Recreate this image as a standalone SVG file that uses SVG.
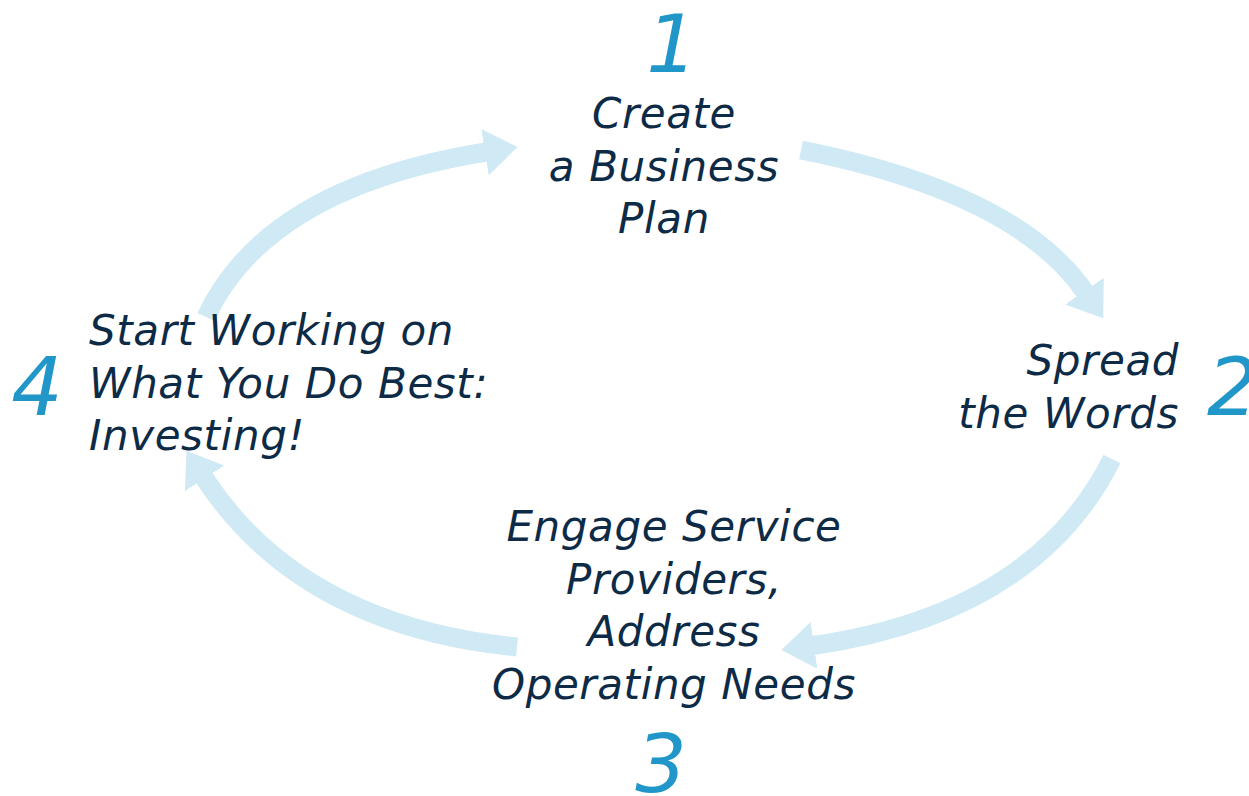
<svg xmlns="http://www.w3.org/2000/svg" width="1249" height="796" viewBox="0 0 1249 796">
<defs>
<style>
.lbl{font-family:"DejaVu Sans",Verdana,sans-serif;font-style:italic;font-size:42px;letter-spacing:0.6px;fill:#0d2b46}
.num{font-family:"DejaVu Sans",Verdana,sans-serif;font-style:italic;font-size:81px;fill:#2196c9}
.arr{fill:none;stroke:#cfe9f5;stroke-width:19;marker-end:url(#head)}
</style>
<marker id="head" markerUnits="userSpaceOnUse" viewBox="0 0 33 47" refX="1" refY="23.5" markerWidth="33" markerHeight="47" orient="auto">
<path d="M0,0 L33,23.5 L0,47 Z" fill="#cfe9f5"/>
</marker>
</defs>
<rect width="1249" height="796" fill="#ffffff"/>
<g id="connectors">
<path class="arr" d="M206,317 Q266.5,187.4 486,152"/>
<path class="arr" d="M801,150 Q1016.5,193 1085,292"/>
<path class="arr" d="M1112,459 Q1034.9,613.3 813,645.5"/>
<path class="arr" d="M517,647 Q300.5,625.3 204,477.5"/>
</g>
<g id="node1">
<text class="num" x="672" y="72" text-anchor="middle">1</text>
<text class="lbl" text-anchor="middle"><tspan x="664" y="128">Create</tspan><tspan x="664" y="180.5">a Business</tspan><tspan x="664" y="233">Plan</tspan></text>
</g>
<g id="node2">
<text class="num" x="1207" y="415">2</text>
<text class="lbl" text-anchor="end"><tspan x="1179" y="375">Spread</tspan><tspan x="1179" y="428">the Words</tspan></text>
</g>
<g id="node3">
<text class="num" x="661" y="792" text-anchor="middle">3</text>
<text class="lbl" text-anchor="middle"><tspan x="674" y="541">Engage Service</tspan><tspan x="674" y="593.5">Providers,</tspan><tspan x="674" y="646">Address</tspan><tspan x="674" y="698.5">Operating Needs</tspan></text>
</g>
<g id="node4">
<text class="num" x="37" y="415" text-anchor="middle">4</text>
<text class="lbl"><tspan x="89" y="345">Start Working on</tspan><tspan x="89" y="398">What You Do Best:</tspan><tspan x="89" y="450">Investing!</tspan></text>
</g>
</svg>
